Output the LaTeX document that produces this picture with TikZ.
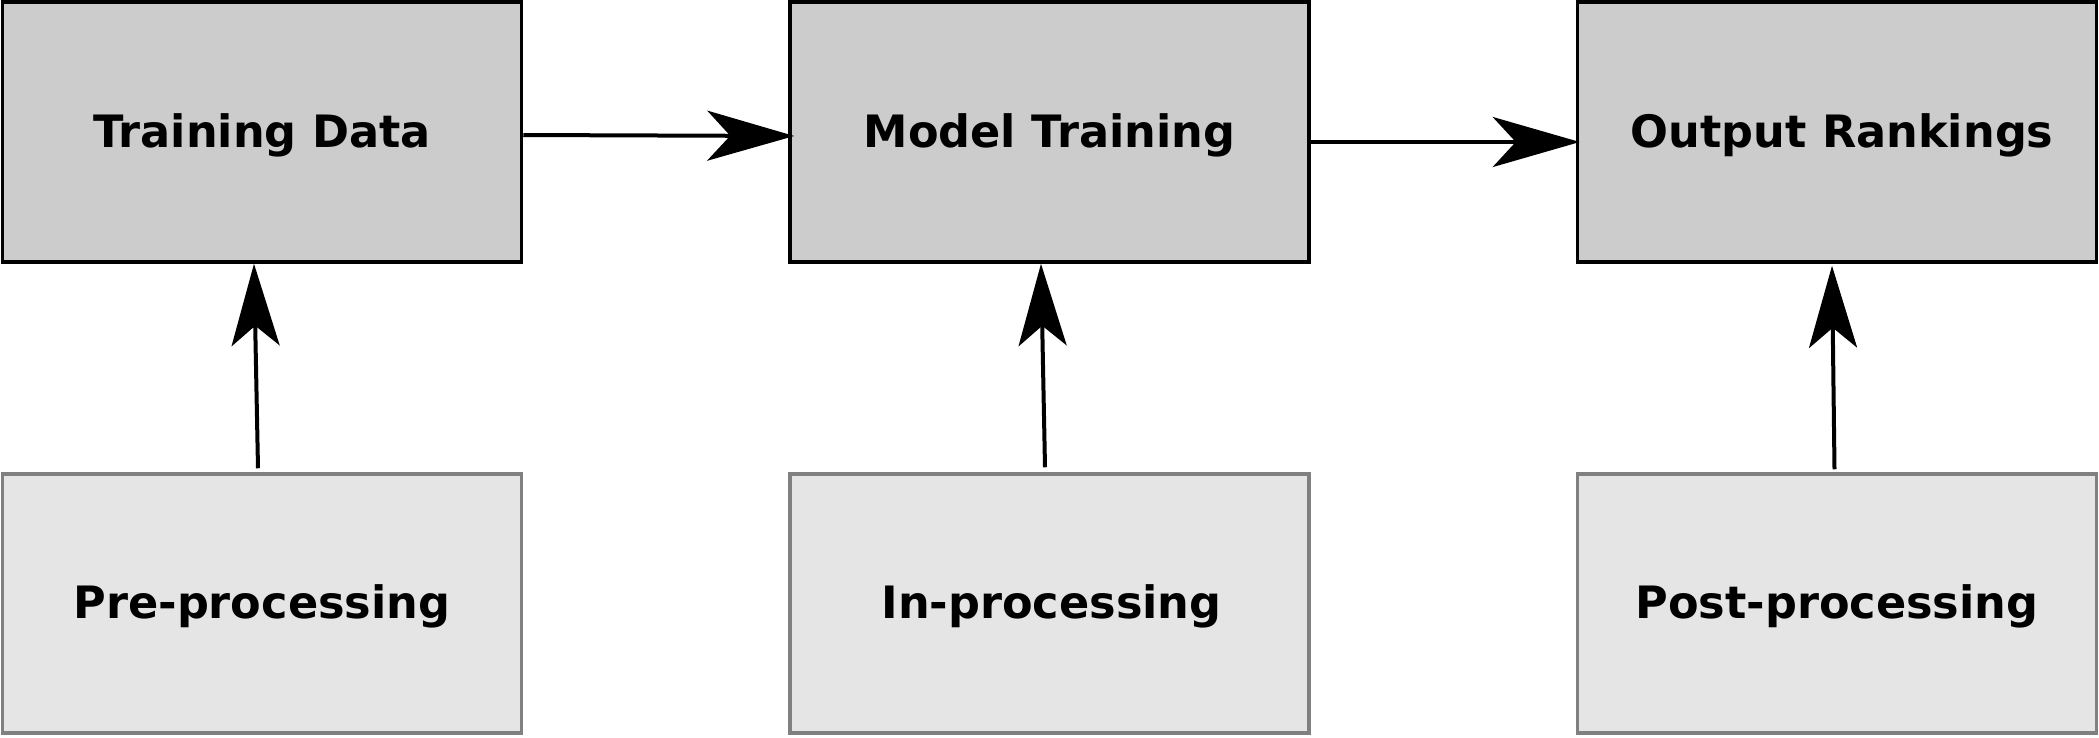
\documentclass[tikz,border=0pt]{standalone}
\usepackage{fontspec}
\setmainfont{DejaVu Sans}
\usetikzlibrary{arrows.meta}
\definecolor{topfill}{HTML}{CCCCCC}
\definecolor{botfill}{HTML}{E5E5E5}
\definecolor{botline}{HTML}{808080}
\newcommand{\boxlbl}[1]{\raisebox{-3pt}[\height][\depth]{#1}}
\tikzset{
  stagebox/.style={rectangle, draw=black, fill=topfill, line width=3.5pt,
    minimum width=519pt, minimum height=260pt, inner sep=0pt,
    font=\fontsize{44.6}{53}\selectfont\bfseries},
  fairbox/.style={stagebox, draw=botline, fill=botfill, minimum height=259pt},
  harr/.style={line width=4pt, -{Stealth[length=87pt, width=50pt, inset=23pt]}},
  varr/.style={line width=4pt, -{Stealth[length=82pt, width=48pt, inset=20pt]}}
}
\begin{document}
\begin{tikzpicture}[x=1pt, y=-1pt]
\useasboundingbox (0,0) rectangle (2099,737);
\node[stagebox] (td) at (262,132) {\boxlbl{Training Data}};
\node[stagebox] (mt) at (1049.5,132) {\boxlbl{Model Training}};
\node[stagebox] (or) at (1837,132) {\boxlbl{\hspace*{10pt}Output Rankings}};
\node[fairbox] (pre) at (262,603.5) {\boxlbl{Pre-processing}};
\node[fairbox] (in) at (1049.5,603.5) {\boxlbl{\hspace*{4pt}In-processing}};
\node[fairbox] (post) at (1837,603.5) {\boxlbl{Post-processing}};
\draw[harr] ([yshift=-3pt]td.east) -- ([xshift=6pt,yshift=-4pt]mt.west);
\draw[harr] ([yshift=-10pt]mt.east) -- ([xshift=4pt,yshift=-10pt]or.west);
\draw[varr] ([xshift=-4pt,yshift=4pt]pre.north) -- ([xshift=-8pt]td.south);
\draw[varr] ([xshift=-4.5pt,yshift=5pt]in.north) -- ([xshift=-8.5pt]mt.south);
\draw[varr] ([xshift=-2.5pt,yshift=3pt]post.north) -- ([xshift=-5pt,yshift=-2pt]or.south);
\end{tikzpicture}
\end{document}
